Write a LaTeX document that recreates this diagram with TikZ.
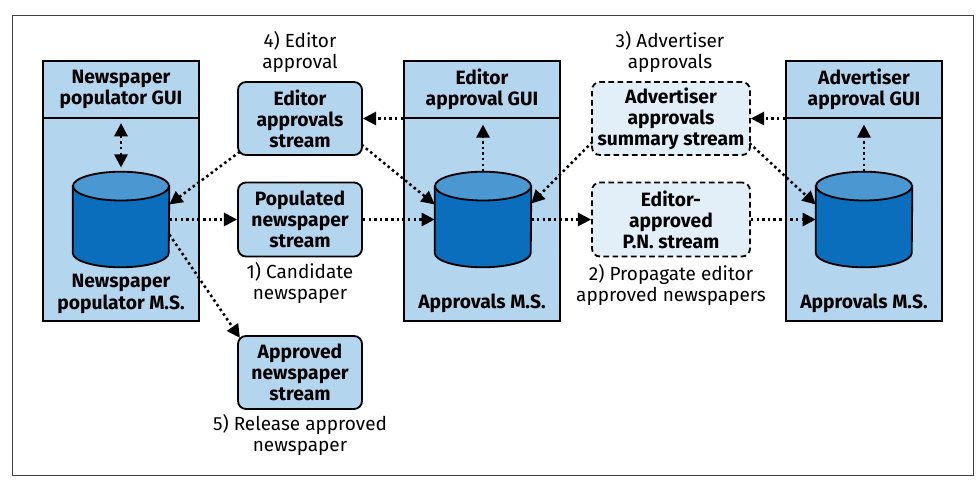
\documentclass[tikz,border=0pt]{standalone}
\usepackage{fontspec}
\setmainfont{Fira Sans}
\usetikzlibrary{arrows.meta}
\definecolor{boxblue}{RGB}{180,213,238}
\definecolor{dbbody}{RGB}{10,110,189}
\definecolor{dbtop}{RGB}{74,151,210}
\definecolor{streamlight}{RGB}{226,239,249}
\tikzstyle{service}=[draw, fill=boxblue, line width=1.3pt, inner sep=0]
\tikzstyle{service text}=[font=\fontsize{13.7}{15}\selectfont\bfseries, align=center]
\tikzstyle{stream}=[draw, fill=boxblue, line width=1.3pt, rounded corners=0.2cm, inner sep=0, service text]
\tikzstyle{new stream}=[stream, fill=streamlight, dash pattern=on 4pt off 2.5pt]
\tikzstyle{db space}=[minimum width=2.4cm, minimum height=2.375cm, inner sep=0]
\tikzstyle{db outline}=[draw, line width=1.3pt]
\tikzstyle{step label}=[font=\fontsize{13.5}{15}\selectfont, align=center]
\tikzstyle{flow}=[line width=1.8pt, dash pattern=on 1.8pt off 2.2pt, -{Triangle[length=0.33cm,width=0.33cm]}]
\tikzstyle{both flow}=[flow, {Triangle[length=0.33cm,width=0.33cm]}-{Triangle[length=0.33cm,width=0.33cm]}]

% cylinder drawn inside an empty db space node
\newcommand{\drawdb}[1]{%
  \draw[db outline, fill=dbbody] ([yshift=-0.36cm]#1.north west) -- ([yshift=0.36cm]#1.south west)
    arc[start angle=180, end angle=360, x radius=1.2cm, y radius=0.36cm]
    -- ([yshift=-0.36cm]#1.north east) -- cycle;
  \draw[db outline, fill=dbtop] ([yshift=-0.36cm]#1.north) ellipse[x radius=1.2cm, y radius=0.36cm];}

\begin{document}
\begin{tikzpicture}[x=0.025cm, y=0.025cm]
    \useasboundingbox (0,0) rectangle (979,487);
    \draw[black!75, line width=0.7pt] (12,12) rectangle (973,472);

    % microservices
    \node[service, minimum width=3.9cm, minimum height=6.5cm] (populator ms) at (121,296) {};
    \node[service, service text, minimum width=3.9cm, minimum height=1.425cm] (populator gui) at (121,397.5)
      {Newspaper\\populator GUI};
    \node[service text] (populator name) at (121,193) {Newspaper\\populator M.S.};
    \node[db space] (populator db) at (121,267.5) {};
    \drawdb{populator db}

    \node[service, minimum width=3.9cm, minimum height=6.5cm] (editor ms) at (482,296) {};
    \node[service, service text, minimum width=3.9cm, minimum height=1.425cm] (editor gui) at (482,397.5)
      {Editor\\approval GUI};
    \node[service text] (editor name) at (482,184) {Approvals M.S.};
    \node[db space] (editor db) at (483,267.5) {};
    \drawdb{editor db}

    \node[service, minimum width=3.9cm, minimum height=6.5cm] (advertiser ms) at (864,296) {};
    \node[service, service text, minimum width=3.9cm, minimum height=1.425cm] (advertiser gui) at (864,397.5)
      {Advertiser\\approval GUI};
    \node[service text] (advertiser name) at (864,184) {Approvals M.S.};
    \node[db space] (advertiser db) at (864,267.5) {};
    \drawdb{advertiser db}

    % streams
    \node[stream, minimum width=3.1cm, minimum height=1.825cm] (editor stream) at (300,368.5)
      {Editor\\approvals\\stream};
    \node[stream, minimum width=3.1cm, minimum height=1.85cm] (populated stream) at (300,267.5)
      {Populated\\newspaper\\stream};
    \node[stream, minimum width=3.1cm, minimum height=1.825cm] (approved stream) at (300,114.5)
      {Approved\\newspaper\\stream};
    \node[new stream, minimum width=3.95cm, minimum height=1.825cm] (summary stream) at (671,368.5)
      {Advertiser\\approvals\\summary stream};
    \node[new stream, minimum width=3.95cm, minimum height=1.85cm] (pn stream) at (671,267.5)
      {Editor-\\approved\\P.N. stream};

    % step labels
    \node[step label] (step four) at (300,435) {4) Editor\\approval};
    \node[step label] (step three) at (670,435) {3) Advertiser\\approvals};
    \node[step label] (step one) at (300,204) {1) Candidate\\newspaper};
    \node[step label] (step two) at (671,202) {2) Propagate editor\\approved newspapers};
    \node[step label] (step five) at (300,52) {5) Release approved\\newspaper};

    % flows
    \draw[both flow, shorten <=3pt, shorten >=3pt] (populator gui.south) to (populator db.north);
    \draw[flow, shorten >=4pt] (editor db.north) to (editor db.north |- editor gui.south);
    \draw[flow, shorten >=4pt] (advertiser db.north) to (advertiser db.north |- advertiser gui.south);

    \draw[flow] ([shift={(2pt,3pt)}]editor stream.south west) to ([yshift=0.375cm]populator db.east);
    \draw[flow] (populator db.east) to (populated stream.west);
    \draw[flow] ([yshift=-0.375cm]populator db.east) to ([shift={(2pt,-2pt)}]approved stream.north west);
    \draw[flow] (populated stream.east) to (editor db.west);

    \draw[flow] (editor stream.east -| editor gui.west) to (editor stream.east);
    \draw[flow] ([shift={(-1pt,8pt)}]editor stream.south east) to ([yshift=0.375cm]editor db.west);
    \draw[flow] (editor db.east) to (pn stream.west);
    \draw[flow] (pn stream.east) to (advertiser db.west);

    \draw[flow] (summary stream.east -| advertiser gui.west) to (summary stream.east);
    \draw[flow] ([shift={(1pt,10pt)}]summary stream.south west) to ([yshift=0.4cm]editor db.east);
    \draw[flow] ([shift={(-1pt,9pt)}]summary stream.south east) to ([yshift=0.375cm]advertiser db.west);
  \end{tikzpicture}
\end{document}
